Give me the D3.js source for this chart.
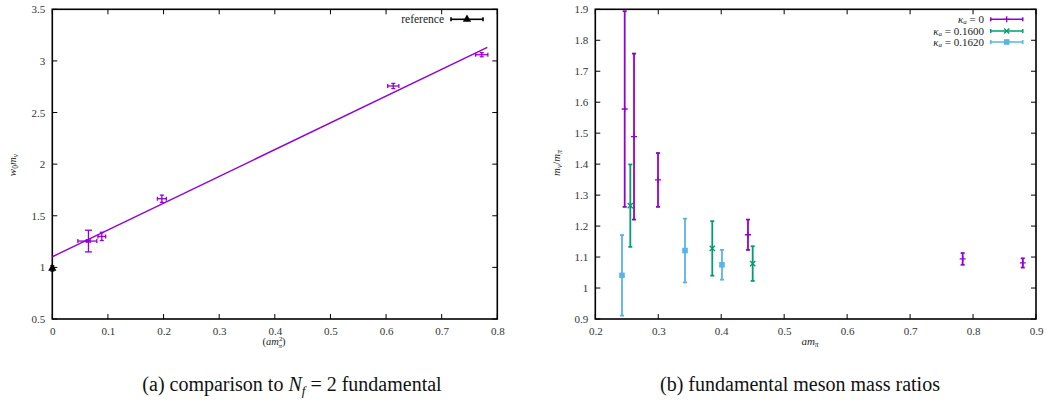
<!DOCTYPE html>
<html>
<head>
<meta charset="utf-8">
<script src="https://cdn.jsdelivr.net/npm/d3@7"></script>
<style>
  body { margin: 0; background: #fff; }
  .caption { font-size: 20px; fill: #111; }
</style>
</head>
<body>
<svg id="chart" width="1047" height="403" font-family="Liberation Serif"></svg>
<script>
// panel (a): Nf=2 comparison
const nf2X    = [0.063, 0.065, 0.089, 0.197, 0.613, 0.772];
const nf2Y    = [1.255, 1.255, 1.300, 1.665, 2.757, 3.060];
const nf2Xerr = [0.017, 0.003, 0.007, 0.008, 0.010, 0.011];
const nf2Yerr = [0.008, 0.105, 0.040, 0.035, 0.025, 0.020];
const fitX = [0, 0.782];
const fitY = [1.103, 3.132];
const refX = [0];
const refY = [0.99];
const refYerr = [0.025];
const aXTicks = [0, 0.1, 0.2, 0.3, 0.4, 0.5, 0.6, 0.7, 0.8];
const aYTicks = [0.5, 1, 1.5, 2, 2.5, 3, 3.5];

// panel (b): mass ratios
const k0X    = [0.2467, 0.2615, 0.2996, 0.4425, 0.7835, 0.879];
const k0Y    = [1.578, 1.489, 1.349, 1.172, 1.094, 1.081];
const k0Err  = [0.316, 0.268, 0.087, 0.049, 0.019, 0.015];
const k16X   = [0.2556, 0.3858, 0.450];
const k16Y   = [1.266, 1.128, 1.079];
const k16Err = [0.133, 0.088, 0.056];
const k162X  = [0.2424, 0.3425, 0.4012];
const k162Y  = [1.041, 1.121, 1.075];
const k162Err= [0.130, 0.103, 0.048];
const bXTicks = [0.2, 0.3, 0.4, 0.5, 0.6, 0.7, 0.8, 0.9];
const bYTicks = [0.9, 1, 1.1, 1.2, 1.3, 1.4, 1.5, 1.6, 1.7, 1.8, 1.9];
const legendB = ["0", "0.1600", "0.1620"];

const purple = "#9400d3", green = "#009e73", blue = "#56b4e9";

var svg = d3.select("#chart");
svg.append("rect").attr("width", 1047).attr("height", 403).attr("fill", "#fff");

function frame(g, x, y, xticks, yticks, fmtX, fmtY) {
  var x0 = x.range()[0], x1 = x.range()[1], y0 = y.range()[0], y1 = y.range()[1];
  var tl = 5;
  g.append("g").attr("transform", "translate(0," + y0 + ")")
    .call(d3.axisBottom(x).tickValues(xticks).tickFormat(fmtX).tickSize(0).tickPadding(8))
    .call(s => s.select(".domain").remove())
    .attr("font-family", null).attr("font-size", null);
  g.append("g").attr("transform", "translate(" + x0 + ",0)")
    .call(d3.axisLeft(y).tickValues(yticks).tickFormat(fmtY).tickSize(0).tickPadding(7))
    .call(s => s.select(".domain").remove())
    .attr("font-family", null).attr("font-size", null);
  g.selectAll(".tick text").attr("fill", "#333").style("font-size", "11px");
  var t = g.append("g").attr("stroke", "#000").attr("stroke-width", 1);
  xticks.forEach(function (v) {
    t.append("line").attr("x1", x(v)).attr("x2", x(v)).attr("y1", y0).attr("y2", y0 - tl);
    t.append("line").attr("x1", x(v)).attr("x2", x(v)).attr("y1", y1).attr("y2", y1 + tl);
  });
  yticks.forEach(function (v) {
    t.append("line").attr("x1", x0).attr("x2", x0 + tl).attr("y1", y(v)).attr("y2", y(v));
    t.append("line").attr("x1", x1).attr("x2", x1 - tl).attr("y1", y(v)).attr("y2", y(v));
  });
  g.append("rect").attr("x", x0).attr("y", y1).attr("width", x1 - x0).attr("height", y0 - y1)
    .attr("fill", "none").attr("stroke", "#000").attr("stroke-width", 1.6);
}

function yerrbar(g, px, top, bot, color, cap, w) {
  g.append("line").attr("x1", px).attr("x2", px).attr("y1", top).attr("y2", bot)
    .attr("stroke", color).attr("stroke-width", w);
  [top, bot].forEach(function (yy) {
    g.append("line").attr("x1", px - cap).attr("x2", px + cap).attr("y1", yy).attr("y2", yy)
      .attr("stroke", color).attr("stroke-width", w);
  });
}
function xerrbar(g, py, left, right, color, cap, w) {
  g.append("line").attr("x1", left).attr("x2", right).attr("y1", py).attr("y2", py)
    .attr("stroke", color).attr("stroke-width", w);
  [left, right].forEach(function (xx) {
    g.append("line").attr("x1", xx).attr("x2", xx).attr("y1", py - cap).attr("y2", py + cap)
      .attr("stroke", color).attr("stroke-width", w);
  });
}

// ---------- panel (a)
var xa = d3.scaleLinear().domain([0, 0.8]).range([52.3, 497.3]);
var ya = d3.scaleLinear().domain([0.5, 3.5]).range([319, 9.3]);
var ga = svg.append("g");
frame(ga, xa, ya, aXTicks, aYTicks, d3.format(".1f"), d => d3.format(".1f")(d).replace(/\.0$/, ""));
ga.selectAll(".tick text").filter(d => d === 0).text("0");

var lineGen = d3.line().x(d => xa(d[0])).y(d => ya(d[1]));
ga.append("path").datum(d3.zip(fitX, fitY)).attr("d", lineGen)
  .attr("fill", "none").attr("stroke", purple).attr("stroke-width", 1.4);

var pa = ga.append("g");
nf2X.forEach(function (v, i) {
  var px = xa(v), py = ya(nf2Y[i]);
  var cap = i === 1 ? 3.5 : 2;
  yerrbar(pa, px, ya(nf2Y[i] + nf2Yerr[i]), ya(nf2Y[i] - nf2Yerr[i]), purple, cap, 1.3);
  xerrbar(pa, py, xa(v - nf2Xerr[i]), xa(v + nf2Xerr[i]), purple, 2, 1.3);
});
var tri = d3.symbol().type(d3.symbolTriangle).size(30);
refX.forEach(function (v, i) {
  yerrbar(pa, xa(v), ya(refY[i] + refYerr[i]), ya(refY[i] - refYerr[i]), "#000", 2, 1.3);
  pa.append("path").attr("d", tri).attr("transform", "translate(" + xa(v) + "," + ya(refY[i]) + ")").attr("fill", "#000");
});
// legend (a)
ga.append("text").attr("x", 444).attr("y", 22.8).attr("text-anchor", "end")
  .style("font-size", "11.5px").attr("fill", "#222").text("reference");
xerrbar(ga, 19.3, 451, 483, "#000", 2, 1.6);
ga.append("path").attr("d", tri).attr("transform", "translate(467,19.3)").attr("fill", "#000");

// axis labels (a)
var la = ga.append("text").attr("transform", "translate(16,165) rotate(-90)")
  .attr("text-anchor", "middle").style("font-size", "11px").style("font-style", "italic").attr("fill", "#222");
la.append("tspan").text("w");
la.append("tspan").attr("dy", 2).style("font-size", "7.5px").style("font-style", "normal").text("0");
la.append("tspan").attr("dy", -2).text("m");
la.append("tspan").attr("dy", 2).style("font-size", "7.5px").text("v");
var lx = ga.append("text").attr("x", 274).attr("y", 345).attr("text-anchor", "middle")
  .style("font-size", "10.5px").attr("fill", "#222");
lx.append("tspan").text("(");
lx.append("tspan").style("font-style", "italic").text("am");
lx.append("tspan").attr("dy", -4).style("font-size", "7px").text("2");
lx.append("tspan").attr("dx", -4).attr("dy", 7).style("font-size", "7px").style("font-style", "italic").text("π");
lx.append("tspan").attr("dy", -3).text(")");

// caption (a)
var ca = svg.append("text").attr("class", "caption").attr("x", 292).attr("y", 391).attr("text-anchor", "middle");
ca.append("tspan").text("(a)  comparison to ");
ca.append("tspan").style("font-style", "italic").text("N");
ca.append("tspan").attr("dy", 4).style("font-size", "13px").style("font-style", "italic").text("f");
ca.append("tspan").attr("dy", -4).text(" = 2 fundamental");

// ---------- panel (b)
var xb = d3.scaleLinear().domain([0.2, 0.9]).range([595.3, 1036]);
var yb = d3.scaleLinear().domain([0.9, 1.9]).range([319, 9.3]);
var gb = svg.append("g");
frame(gb, xb, yb, bXTicks, bYTicks, d3.format(".1f"), d => d3.format(".1f")(d).replace(/\.0$/, ""));

var pb = gb.append("g");
function series(xs, ys, es, color, marker) {
  xs.forEach(function (v, i) {
    var px = xb(v), py = yb(ys[i]);
    yerrbar(pb, px, yb(ys[i] + es[i]), yb(ys[i] - es[i]), color, 2, 1.8);
    marker(pb, px, py, color);
  });
}
function plus(g, px, py, c) {
  g.append("path").attr("d", "M" + (px - 3) + "," + py + "H" + (px + 3) + "M" + px + "," + (py - 3) + "V" + (py + 3))
    .attr("stroke", c).attr("stroke-width", 1.3);
}
function cross(g, px, py, c) {
  g.append("path").attr("d", "M" + (px - 2.6) + "," + (py - 2.6) + "L" + (px + 2.6) + "," + (py + 2.6) + "M" + (px - 2.6) + "," + (py + 2.6) + "L" + (px + 2.6) + "," + (py - 2.6))
    .attr("stroke", c).attr("stroke-width", 1.4);
}
function square(g, px, py, c) {
  g.append("rect").attr("x", px - 2.8).attr("y", py - 2.8).attr("width", 5.6).attr("height", 5.6).attr("fill", c);
}
series(k0X, k0Y, k0Err, purple, plus);
series(k16X, k16Y, k16Err, green, cross);
series(k162X, k162Y, k162Err, blue, square);

// legend (b)
var legColors = [purple, green, blue], legMarks = [plus, cross, square], legY = [19.3, 31, 42];
legendB.forEach(function (v, i) {
  var t = gb.append("text").attr("x", 984).attr("y", legY[i] + 3.6).attr("text-anchor", "end")
    .style("font-size", "11px").attr("fill", "#222");
  t.append("tspan").style("font-style", "italic").text("κ");
  t.append("tspan").attr("dy", 1.5).style("font-size", "7px").style("font-style", "italic").text("a");
  t.append("tspan").attr("dy", -1.5).text(" = " + v);
  xerrbar(gb, legY[i], 990.7, 1022.7, legColors[i], 2, 1.6);
  legMarks[i](gb, 1006.7, legY[i], legColors[i]);
});

// axis labels (b)
var lb = gb.append("text").attr("transform", "translate(560,163) rotate(-90)")
  .attr("text-anchor", "middle").style("font-size", "11px").style("font-style", "italic").attr("fill", "#222");
lb.append("tspan").text("m");
lb.append("tspan").attr("dy", 2).style("font-size", "7.5px").text("v");
lb.append("tspan").attr("dy", -2).style("font-style", "normal").text("/");
lb.append("tspan").text("m");
lb.append("tspan").attr("dy", 2).style("font-size", "7.5px").text("π");
var lbx = gb.append("text").attr("x", 810).attr("y", 345).attr("text-anchor", "middle")
  .style("font-size", "11px").style("font-style", "italic").attr("fill", "#222");
lbx.append("tspan").text("am");
lbx.append("tspan").attr("dy", 2).style("font-size", "7.5px").text("π");

// caption (b)
svg.append("text").attr("class", "caption").attr("x", 800).attr("y", 391).attr("text-anchor", "middle")
  .text("(b)  fundamental meson mass ratios");
</script>
</body>
</html>
